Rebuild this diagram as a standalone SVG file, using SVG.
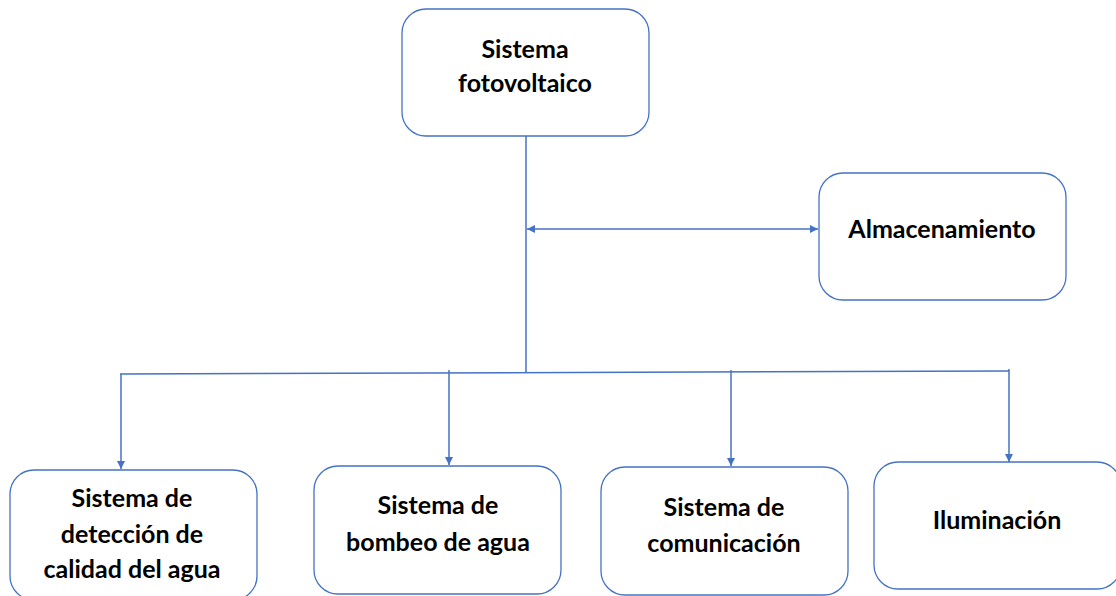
<svg xmlns="http://www.w3.org/2000/svg" width="1116" height="596" viewBox="0 0 1116 596">
<defs>
<style>
.box{fill:#fff;stroke:#4472C4;stroke-width:1.3}
.t{font-family:Lato,"Open Sans","Liberation Sans",sans-serif;font-weight:bold;font-size:25px;fill:#000;text-anchor:middle}
.c{stroke:#4472C4;stroke-width:1.5;fill:none}
</style>
<marker id="ah" viewBox="0 0 10 10" refX="10" refY="5" markerWidth="8" markerHeight="8" markerUnits="userSpaceOnUse" orient="auto-start-reverse">
<path d="M0,0 L10,5 L0,10 z" fill="#4472C4"/>
</marker>
</defs>
<rect width="1116" height="596" fill="#fff"/>
<g id="connectors">
<line class="c" x1="526" y1="136" x2="526" y2="373"/>
<line class="c" x1="527" y1="229" x2="818" y2="229" marker-start="url(#ah)" marker-end="url(#ah)"/>
<line class="c" x1="120" y1="374" x2="1009" y2="371"/>
<line class="c" x1="121" y1="374" x2="121" y2="469" marker-end="url(#ah)"/>
<line class="c" x1="449" y1="370" x2="449" y2="465" marker-end="url(#ah)"/>
<line class="c" x1="731" y1="370" x2="731" y2="466" marker-end="url(#ah)"/>
<line class="c" x1="1009" y1="369" x2="1009" y2="462" marker-end="url(#ah)"/>
</g>
<g id="n-fv">
<rect class="box" x="402" y="9" width="247" height="127" rx="24"/>
<text class="t" x="525" y="58">Sistema</text>
<text class="t" x="525" y="92">fotovoltaico</text>
</g>
<g id="n-alm">
<rect class="box" x="819" y="173" width="247" height="127" rx="24"/>
<text class="t" x="942" y="238">Almacenamiento</text>
</g>
<g id="n-det">
<rect class="box" x="10" y="470" width="247" height="130" rx="24"/>
<text class="t" x="132" y="507">Sistema de</text>
<text class="t" x="132" y="543">detección de</text>
<text class="t" x="132" y="578">calidad del agua</text>
</g>
<g id="n-bomb">
<rect class="box" x="314" y="466" width="247" height="128" rx="24"/>
<text class="t" x="438" y="514">Sistema de</text>
<text class="t" x="438" y="551">bombeo de agua</text>
</g>
<g id="n-com">
<rect class="box" x="601" y="467" width="247" height="128" rx="24"/>
<text class="t" x="724" y="516">Sistema de</text>
<text class="t" x="724" y="552">comunicación</text>
</g>
<g id="n-ilu">
<rect class="box" x="874" y="462" width="247" height="127" rx="24"/>
<text class="t" x="997" y="529">Iluminación</text>
</g>
</svg>
